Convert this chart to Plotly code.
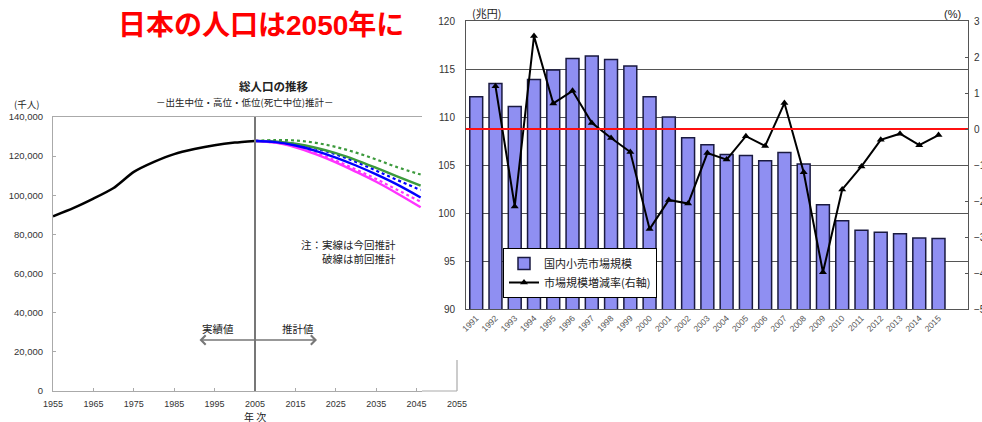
import plotly.graph_objects as go

W, H = 982, 422

# ---------------- data: left chart (population, thousands) ----------------
years_actual = [1955, 1960, 1965, 1970, 1975, 1980, 1985, 1990, 1995, 2000, 2005]
pop_actual = [89276, 93419, 98275, 103720, 111940, 117060, 121049, 123611, 125570, 126926, 127768]

years_proj = [2005, 2010, 2015, 2020, 2025, 2030, 2035, 2040, 2046]
cur_high = [127768, 127500, 126300, 124300, 121500, 118000, 114000, 109800, 104900]
cur_mid = [127768, 127176, 125430, 122735, 119270, 115224, 110679, 105695, 98900]
cur_low = [127768, 126900, 124500, 121000, 116800, 112000, 106900, 101200, 93900]
prev_high = [127768, 128200, 128000, 126800, 124700, 121800, 118300, 114500, 110600]
prev_mid = [127768, 127500, 126200, 123900, 120900, 117000, 112600, 108000, 102700]
prev_low = [127768, 126900, 124900, 121700, 117700, 113200, 108300, 103000, 96700]

pop_yticks = [0, 20000, 40000, 60000, 80000, 100000, 120000, 140000]
pop_xticks = [1955, 1965, 1975, 1985, 1995, 2005, 2015, 2025, 2035, 2045]

# ---------------- data: right chart (retail market) ----------------
market_years = [str(y) for y in range(1991, 2016)]
market_size = [112.1, 113.5, 111.1, 113.9, 114.9, 116.1, 116.35, 116.0, 115.3, 112.1,
               110.0, 107.85, 107.1, 106.1, 106.0, 105.45, 106.3, 105.1, 100.85, 99.2,
               98.2, 98.0, 97.85, 97.4, 97.35]
growth_years = market_years[1:]
growth_rate = [1.19, -2.15, 2.58, 0.71, 1.06, 0.17, -0.25, -0.64, -2.78, -1.97,
               -2.07, -0.67, -0.85, -0.2, -0.47, 0.72, -1.2, -3.98, -1.68, -1.04,
               -0.3, -0.13, -0.45, -0.17]

FONT = "Liberation Sans, Arial, Noto Sans CJK JP, sans-serif"
JP = "Noto Sans CJK JP, sans-serif"


def px(x):
    return x / W


def py(y):
    return 1 - y / H


fig = go.Figure()

# ----- left chart traces -----
fig.add_trace(go.Scatter(x=years_actual, y=pop_actual, mode="lines",
                         line=dict(color="black", width=2.5, shape="spline", smoothing=0.6),
                         xaxis="x", yaxis="y", showlegend=False, hoverinfo="skip"))
GREEN, BLUE, MAG = "#3c9a3c", "#0000ff", "#ff33ff"
for vals, col, dash in [(prev_high, GREEN, "dot"), (prev_mid, BLUE, "dot"), (prev_low, MAG, "dot"),
                        (cur_high, GREEN, "solid"), (cur_low, MAG, "solid"), (cur_mid, BLUE, "solid")]:
    fig.add_trace(go.Scatter(x=years_proj, y=vals, mode="lines",
                             line=dict(color=col, width=2.2 if dash == "dot" else 2.4, dash=dash, shape="spline"),
                             xaxis="x", yaxis="y", showlegend=False, hoverinfo="skip"))

# ----- right chart traces -----
fig.add_trace(go.Bar(x=market_years, y=market_size, name="国内小売市場規模", xaxis="x2", yaxis="y2",
                     marker=dict(color="#8f8ff2", line=dict(color="#1a1a40", width=1.5))))
fig.add_trace(go.Scatter(x=[0, 1], y=[0, 0], mode="lines", line=dict(color="#ff1010", width=2),
                         xaxis="x4", yaxis="y3", showlegend=False, hoverinfo="skip"))
fig.add_trace(go.Scatter(x=growth_years, y=growth_rate, name="市場規模増減率(右軸)", mode="lines+markers",
                         xaxis="x2", yaxis="y3",
                         line=dict(color="black", width=2),
                         marker=dict(symbol="triangle-up", size=7, color="black")))

L0, L1 = 53, 422
x_end = 1955 + (L1 - L0) / 4.04

fig.update_layout(
    width=W, height=H, margin=dict(l=0, r=0, t=0, b=0, autoexpand=False),
    paper_bgcolor="white", plot_bgcolor="white",
    font=dict(family=FONT, color="#333"),
    bargap=0.33,
    xaxis=dict(domain=[px(L0), px(L1)], range=[1955, x_end], tickvals=pop_xticks, automargin=False,
               ticks="inside", ticklen=3, tickcolor="#aaa", showline=True, linecolor="#aaa", linewidth=1.2,
               mirror=True, showgrid=False, zeroline=False, tickfont=dict(size=9, color="#333"),
               ticklabelstandoff=4, anchor="y"),
    yaxis=dict(domain=[py(391), py(117)], range=[0, 140000], tickvals=pop_yticks, tickformat=",",
               automargin=False,
               ticks="inside", ticklen=3, tickcolor="#aaa", showline=True, linecolor="#aaa", linewidth=1.2,
               showgrid=False, zeroline=False, tickfont=dict(size=9.5, color="#333"),
               ticklabelstandoff=7, anchor="x"),
    xaxis2=dict(domain=[px(466), px(968)], type="category", anchor="y2", tickangle=-45, automargin=False,
                tickfont=dict(size=8.5, color="#555"), ticks="", showline=True, linecolor="#555",
                mirror=True, showgrid=False, zeroline=False),
    yaxis2=dict(domain=[py(309), py(21)], range=[90, 120], dtick=5, anchor="x2", automargin=False,
                showgrid=True, gridcolor="#555", gridwidth=1, showline=True, linecolor="#555", mirror=True,
                ticks="", ticklabelstandoff=8, tickfont=dict(size=10, color="#333"), zeroline=False),
    yaxis3=dict(range=[-5, 3], dtick=1, overlaying="y2", side="right", anchor="x2", showgrid=False,
                automargin=False,
                ticks="inside", ticklen=3, tickcolor="#555", zeroline=False, ticklabelstandoff=5,
                tickfont=dict(size=10, color="#333")),
    xaxis4=dict(overlaying="x2", range=[0, 1], visible=False, anchor="y3", automargin=False),
    legend=dict(x=px(503), y=py(248), xanchor="left", yanchor="top", bgcolor="white",
                bordercolor="black", borderwidth=1, font=dict(size=11, color="#222", family=JP),
                tracegroupgap=0, itemwidth=30),
)

ann = []


def text(t, x, y, size, color="#222", xanchor="center", bold=False, family=JP, align="center"):
    ann.append(dict(text=("<b>%s</b>" % t) if bold else t, x=px(x), y=py(y), xref="paper", yref="paper",
                    xanchor=xanchor, yanchor="middle", showarrow=False, align=align,
                    font=dict(size=size, color=color, family=family)))


text("日本の人口は2050年に", 116, 25, 28, color="#ff0000", xanchor="left", bold=True,
     family="Liberation Sans, Noto Sans CJK JP, sans-serif")
text("総人口の推移", 273, 86, 11.5, bold=True)
text("－出生中位・高位・低位(死亡中位)推計－", 244, 102, 9.5)
text("(千人)", 26, 104, 9.5)
text("年 次", 255, 416, 10)
text("2055", 457, 404, 9, color="#333", family=FONT)
text("注：実線は今回推計<br>破線は前回推計", 398, 251, 10.5, xanchor="right", align="right")
text("実績値", 218, 328, 10.5)
text("推計値", 298, 328, 10.5)
text("(兆円)", 486, 13, 11)
text("(%)", 952, 14, 11, family=FONT)

# double-headed arrow
ann.append(dict(x=px(317), y=py(340), ax=-(317 - 198), ay=0, xref="paper", yref="paper",
                axref="pixel", ayref="pixel", text="", showarrow=True, arrowhead=4, arrowside="end+start",
                arrowsize=1.3, arrowwidth=1.4, arrowcolor="#777"))

fig.update_layout(annotations=ann)

shapes = [
    dict(type="line", xref="x", yref="y", x0=2005, x1=2005, y0=0, y1=140000, line=dict(color="#777", width=2)),
    dict(type="line", xref="paper", yref="paper", x0=px(L1), x1=px(457), y0=py(391), y1=py(391),
         line=dict(color="#aaa", width=1.2)),
    dict(type="line", xref="paper", yref="paper", x0=px(457), x1=px(457), y0=py(360), y1=py(391),
         line=dict(color="#aaa", width=1.2)),
]
fig.update_layout(shapes=shapes)

fig.write_html("out.html")
